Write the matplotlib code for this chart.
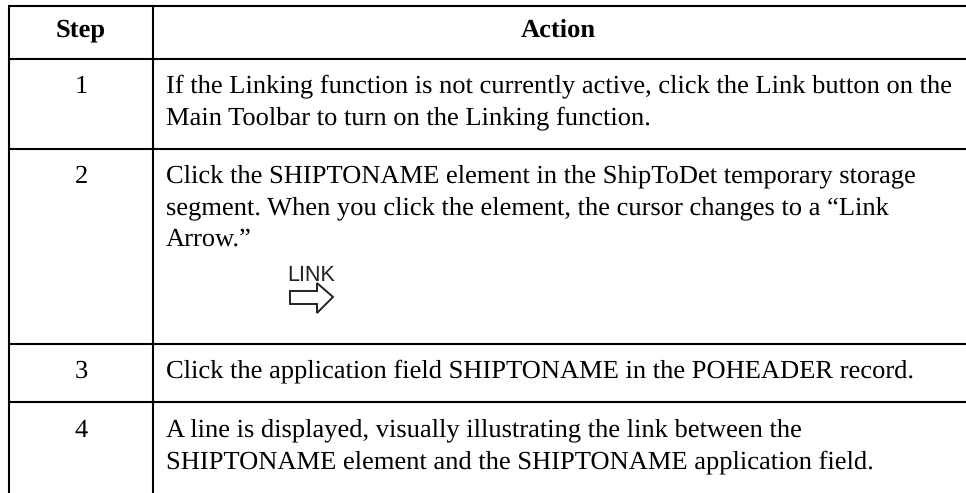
import matplotlib
matplotlib.use('Agg')
import matplotlib.pyplot as plt
from matplotlib.patches import Polygon

W = 966
H = 493

headers = ['Step', 'Action']
steps = ['1', '2', '3', '4']
# one list of lines per row, line breaks as in the page
actions = [
    ['If the Linking function is not currently active, click the Link button on the',
     'Main Toolbar to turn on the Linking function.'],
    ['Click the SHIPTONAME element in the ShipToDet temporary storage',
     'segment. When you click the element, the cursor changes to a \u201cLink',
     'Arrow.\u201d'],
    ['Click the application field SHIPTONAME in the POHEADER record.'],
    ['A line is displayed, visually illustrating the link between the',
     'SHIPTONAME element and the SHIPTONAME application field.'],
]
baselines = [93, 183, 378, 437]
h_lines = [6, 59, 149, 344, 402]
v_lines = [8.5, 153]

plt.rcParams['font.family'] = ['Liberation Serif', 'DejaVu Serif']
plt.rcParams['text.hinting'] = 'no_hinting'

fig = plt.figure(figsize=(W / 100, H / 100), dpi=100)
ax = fig.add_axes([0, 0, 1, 1])
ax.set_xlim(0, W)
ax.set_ylim(H, 0)
ax.axis('off')

#table rules
for y in h_lines:
    ax.plot([8, W], [y, y], color='black', lw=1.5, solid_capstyle='butt')
for x in v_lines:
    ax.plot([x, x], [5.5, H], color='black', lw=1.5, solid_capstyle='butt')

#header
size = 19.05
ax.text(81, 36, headers[0], fontsize=size, fontweight='bold', ha='center', va='baseline')
ax.text(558, 37, headers[1], fontsize=size, fontweight='bold', ha='center', va='baseline')

#rows
line_h = 32
for step, lines, base in zip(steps, actions, baselines):
    ax.text(81, base, step, fontsize=size, ha='center', va='baseline')
    for i, line in enumerate(lines):
        #lines with descenders land a pixel low
        ax.text(166, base - 1 + i * line_h, line, fontsize=size, ha='left', va='baseline')

#link cursor icon
ax.text(287, 281, 'LINK', fontsize=15.5, family='Liberation Sans', color='#222222',
        ha='left', va='baseline')
arrow = [(290, 291), (317, 291), (317, 283), (333, 297), (317, 313), (317, 304), (290, 304)]
ax.add_patch(Polygon(arrow, closed=True, fill=False, edgecolor='#222222', lw=1.4))

fig.savefig('out.png', dpi=100)
